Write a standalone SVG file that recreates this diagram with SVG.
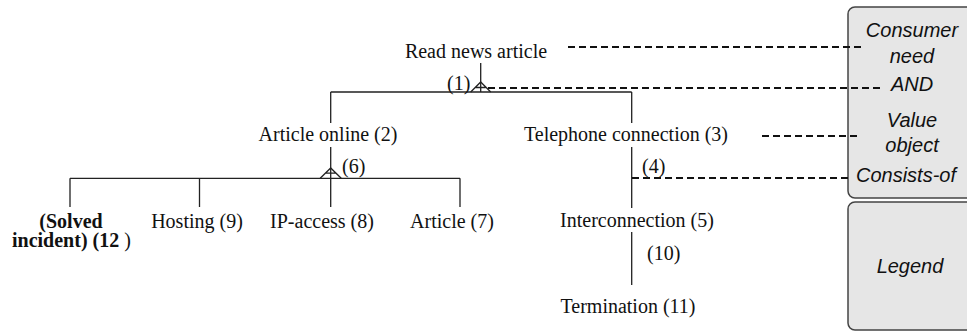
<svg xmlns="http://www.w3.org/2000/svg" width="967" height="331" viewBox="0 0 967 331">
<style>
.t{font-family:"Liberation Serif","Times New Roman",serif;font-size:20px;fill:#111}
.b{font-weight:bold}
.l{font-family:"Liberation Sans",Arial,sans-serif;font-size:20px;font-style:italic;fill:#111;text-anchor:middle}
.s{stroke:#222;stroke-width:1.3;fill:none}
.d{stroke:#111;stroke-width:2;fill:none;stroke-dasharray:7 4}
.p{fill:#e6e6e6;stroke:#444;stroke-width:1.5}
</style>
<rect width="967" height="331" fill="#fff"/>
<g id="legend">
<rect class="p" x="848" y="7" width="130" height="191" rx="7"/>
<rect class="p" x="848" y="202" width="130" height="128" rx="7"/>
<text class="l" x="912" y="37">Consumer</text>
<text class="l" x="912" y="63">need</text>
<text class="l" x="912" y="91">AND</text>
<text class="l" x="912" y="127">Value</text>
<text class="l" x="912" y="152">object</text>
<text class="l" x="906" y="182">Consists-of</text>
<text class="l" x="910" y="273">Legend</text>
</g>
<g id="connectors">
<path class="s" d="M480.7 63V92M330.7 92H631.7M330.7 92V123M631.7 92V123"/>
<path class="s" d="M470.7 92L480.7 82L490.7 92M475.7 87.5H485.7"/>
<path class="s" d="M330.7 147V207M70 178.3H460M70 178.3V207M199.5 178.3V207M460 178.3V207"/>
<path class="s" d="M320.2 178.3L330.7 168L341.2 178.3M325.5 173.2H335.9"/>
<path class="s" d="M631.7 147V208M631.7 232V285"/>
<path class="d" d="M568 47H861M488 88H882M762 136H860M632 178H850"/>
</g>
<g id="n1"><text class="t" x="476" y="58" text-anchor="middle">Read news article</text><text class="t" x="447" y="90">(1)</text></g>
<g id="n2"><text class="t" x="328" y="141" text-anchor="middle">Article online (2)</text><text class="t" x="342" y="173">(6)</text></g>
<g id="n3"><text class="t" x="626" y="141" text-anchor="middle">Telephone connection (3)</text><text class="t" x="642" y="173">(4)</text></g>
<g id="n5"><text class="t" x="637" y="227" text-anchor="middle">Interconnection (5)</text><text class="t" x="647" y="260">(10)</text></g>
<g id="n11"><text class="t" x="628" y="313" text-anchor="middle">Termination (11)</text></g>
<g id="n7"><text class="t" x="452" y="228" text-anchor="middle">Article (7)</text></g>
<g id="n8"><text class="t" x="322" y="228" text-anchor="middle">IP-access (8)</text></g>
<g id="n9"><text class="t" x="197" y="228" text-anchor="middle">Hosting (9)</text></g>
<g id="n12"><text class="t b" x="71" y="228" text-anchor="middle">(Solved</text><text class="t b" x="12" y="247">incident) (12<tspan font-weight="normal"> )</tspan></text></g>
</svg>
